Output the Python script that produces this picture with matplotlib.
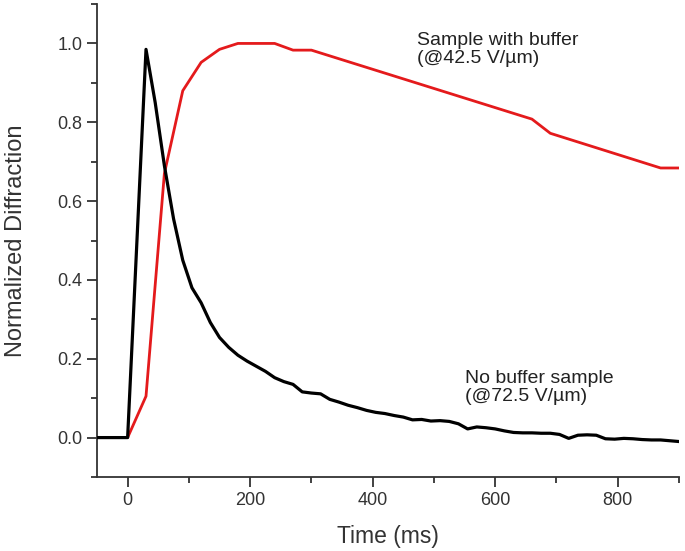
import matplotlib
matplotlib.use("Agg")
import matplotlib.pyplot as plt
from matplotlib.ticker import MultipleLocator, FormatStrFormatter

plt.rcParams["font.family"] = ["Liberation Sans", "DejaVu Sans"]

# red trace: sample with buffer (@42.5 V/um)
t_buf = [-50, 0, 30, 60, 90, 120, 150, 180, 210, 240, 270, 300,
         660, 690, 870, 900]
y_buf = [0.0, 0.0, 0.105, 0.67, 0.88, 0.952, 0.985, 1.0, 1.0, 1.0, 0.983, 0.983,
         0.808, 0.772, 0.684, 0.684]

# black trace: no buffer sample (@72.5 V/um)
t_nobuf = [-50, 0, 30, 45, 60, 75, 90, 105, 120, 135, 150, 165, 180, 195, 210,
           225, 240, 255, 270, 285, 300, 315, 330, 345, 360, 375, 390, 405, 420,
           435, 450, 465, 480, 495, 510, 525, 540, 555, 570, 585, 600, 615, 630,
           645, 660, 675, 690, 705, 720, 735, 750, 765, 780, 795, 810, 825, 840,
           855, 870, 885, 900]
y_nobuf = [0.0, 0.0, 0.985, 0.85, 0.69, 0.555, 0.45, 0.38, 0.342, 0.292, 0.254,
           0.229, 0.209, 0.194, 0.181, 0.168, 0.152, 0.142, 0.135, 0.116, 0.113,
           0.111, 0.097, 0.090, 0.082, 0.076, 0.069, 0.064, 0.061, 0.056, 0.052,
           0.045, 0.046, 0.042, 0.043, 0.041, 0.035, 0.022, 0.027, 0.025, 0.022,
           0.017, 0.013, 0.012, 0.012, 0.011, 0.011, 0.008, -0.002, 0.006, 0.007,
           0.006, -0.003, -0.004, -0.002, -0.003, -0.005, -0.006, -0.006, -0.008,
           -0.010]

fig = plt.figure(figsize=(6.85, 5.51), dpi=100)
ax = fig.add_axes([0.1416, 0.1343, 0.8496, 0.8584])

ax.plot(t_nobuf, y_nobuf, color="black", lw=2.3, zorder=3)
ax.plot(t_buf, y_buf, color="#e41a1c", lw=2.0, zorder=2)

ax.set_xlim(-50, 900)
ax.set_ylim(-0.1, 1.1)
ax.xaxis.set_major_locator(MultipleLocator(200))
ax.xaxis.set_minor_locator(MultipleLocator(100))
ax.yaxis.set_major_locator(MultipleLocator(0.2))
ax.yaxis.set_minor_locator(MultipleLocator(0.1))
ax.yaxis.set_major_formatter(FormatStrFormatter("%.1f"))

for s in ("top", "right"):
    ax.spines[s].set_visible(False)
for s in ("left", "bottom"):
    ax.spines[s].set_color("#333333")
    ax.spines[s].set_linewidth(1.3)
ax.tick_params(which="major", direction="out", length=7, width=1.3,
               color="#333333", labelsize=13, labelcolor="#333333")
ax.tick_params(which="minor", direction="out", length=4.5, width=1.3,
               color="#333333")

ax.set_xlabel("Time (ms)", fontsize=16.5, color="#333333", labelpad=12)
ax.set_ylabel("Normalized Diffraction", fontsize=17, color="#333333", labelpad=22)

ax.text(472, 1.03, "Sample with buffer\n(@42.5 V/\u00b5m)", fontsize=14,
        va="top", ha="left", color="#222222", linespacing=1.1)
ax.text(550, 0.172, "No buffer sample\n(@72.5 V/\u00b5m)", fontsize=14,
        va="top", ha="left", color="#222222", linespacing=1.1)

fig.savefig("out.png", dpi=100)
